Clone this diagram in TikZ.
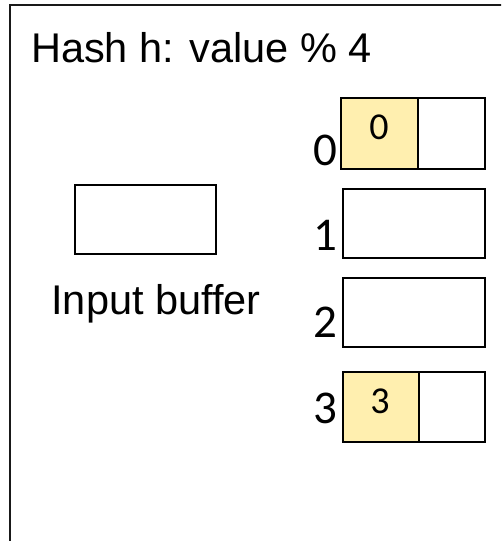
\documentclass[tikz,border=0pt]{standalone}
\usepackage{fontspec}
\setmainfont{Liberation Sans}
\newfontfamily\digitfont{Carlito}
\definecolor{keyyellow}{RGB}{255,239,175}
\begin{document}
\begin{tikzpicture}[x=1pt,y=-1pt,
  boxstyle/.style={draw=black,line width=1.6pt,inner sep=0pt,anchor=north west},
  keycell/.style={boxstyle,fill=keyyellow},
  bigtext/.style={font=\fontsize{41.5}{48}\selectfont,inner sep=0pt},
  idxtext/.style={font=\digitfont\fontsize{47}{52}\selectfont,inner sep=0pt,anchor=base east},
  keytext/.style={font=\digitfont\fontsize{38}{42}\selectfont,inner sep=0pt,anchor=base}]
\useasboundingbox (0,0) rectangle (501,541);
\clip (0,0) rectangle (501,541);
\fill[white] (0,0) rectangle (501,541);
% outer frame
\coordinate (fbl) at (10,560);
\coordinate (ftl) at (10,5);
\coordinate (ftr) at (520,5);
\draw[line width=1.8pt,black!90] (fbl) -- (ftl) -- (ftr);
% title
\node[bigtext,anchor=base west] (title) at (31,62) {Hash h: value \% 4};
% input buffer
\node[boxstyle,minimum width=141pt,minimum height=69pt] (inbuf) at (74,184) {};
\node[bigtext,anchor=base] (inlabel) at (156,314) {Input buffer};
% bucket 0
\node[keycell,minimum width=77pt,minimum height=71pt] (b0k) at (340,97) {};
\node[boxstyle,minimum width=67pt,minimum height=71pt] (b0v) at (417,97) {};
\node[keytext] (k0) at (379,139) {0};
\node[idxtext] (i0) at (338,165) {0};
% bucket 1
\node[boxstyle,minimum width=142pt,minimum height=69pt] (b1) at (342,188) {};
\node[idxtext] (i1) at (338,250) {1};
% bucket 2
\node[boxstyle,minimum width=142pt,minimum height=69pt] (b2) at (342,277) {};
\node[idxtext] (i2) at (338,337) {2};
% bucket 3
\node[keycell,minimum width=76pt,minimum height=70pt] (b3k) at (342,371) {};
\node[boxstyle,minimum width=66pt,minimum height=70pt] (b3v) at (418,371) {};
\node[keytext] (k3) at (380,413) {3};
\node[idxtext] (i3) at (338,423) {3};
\end{tikzpicture}
\end{document}
